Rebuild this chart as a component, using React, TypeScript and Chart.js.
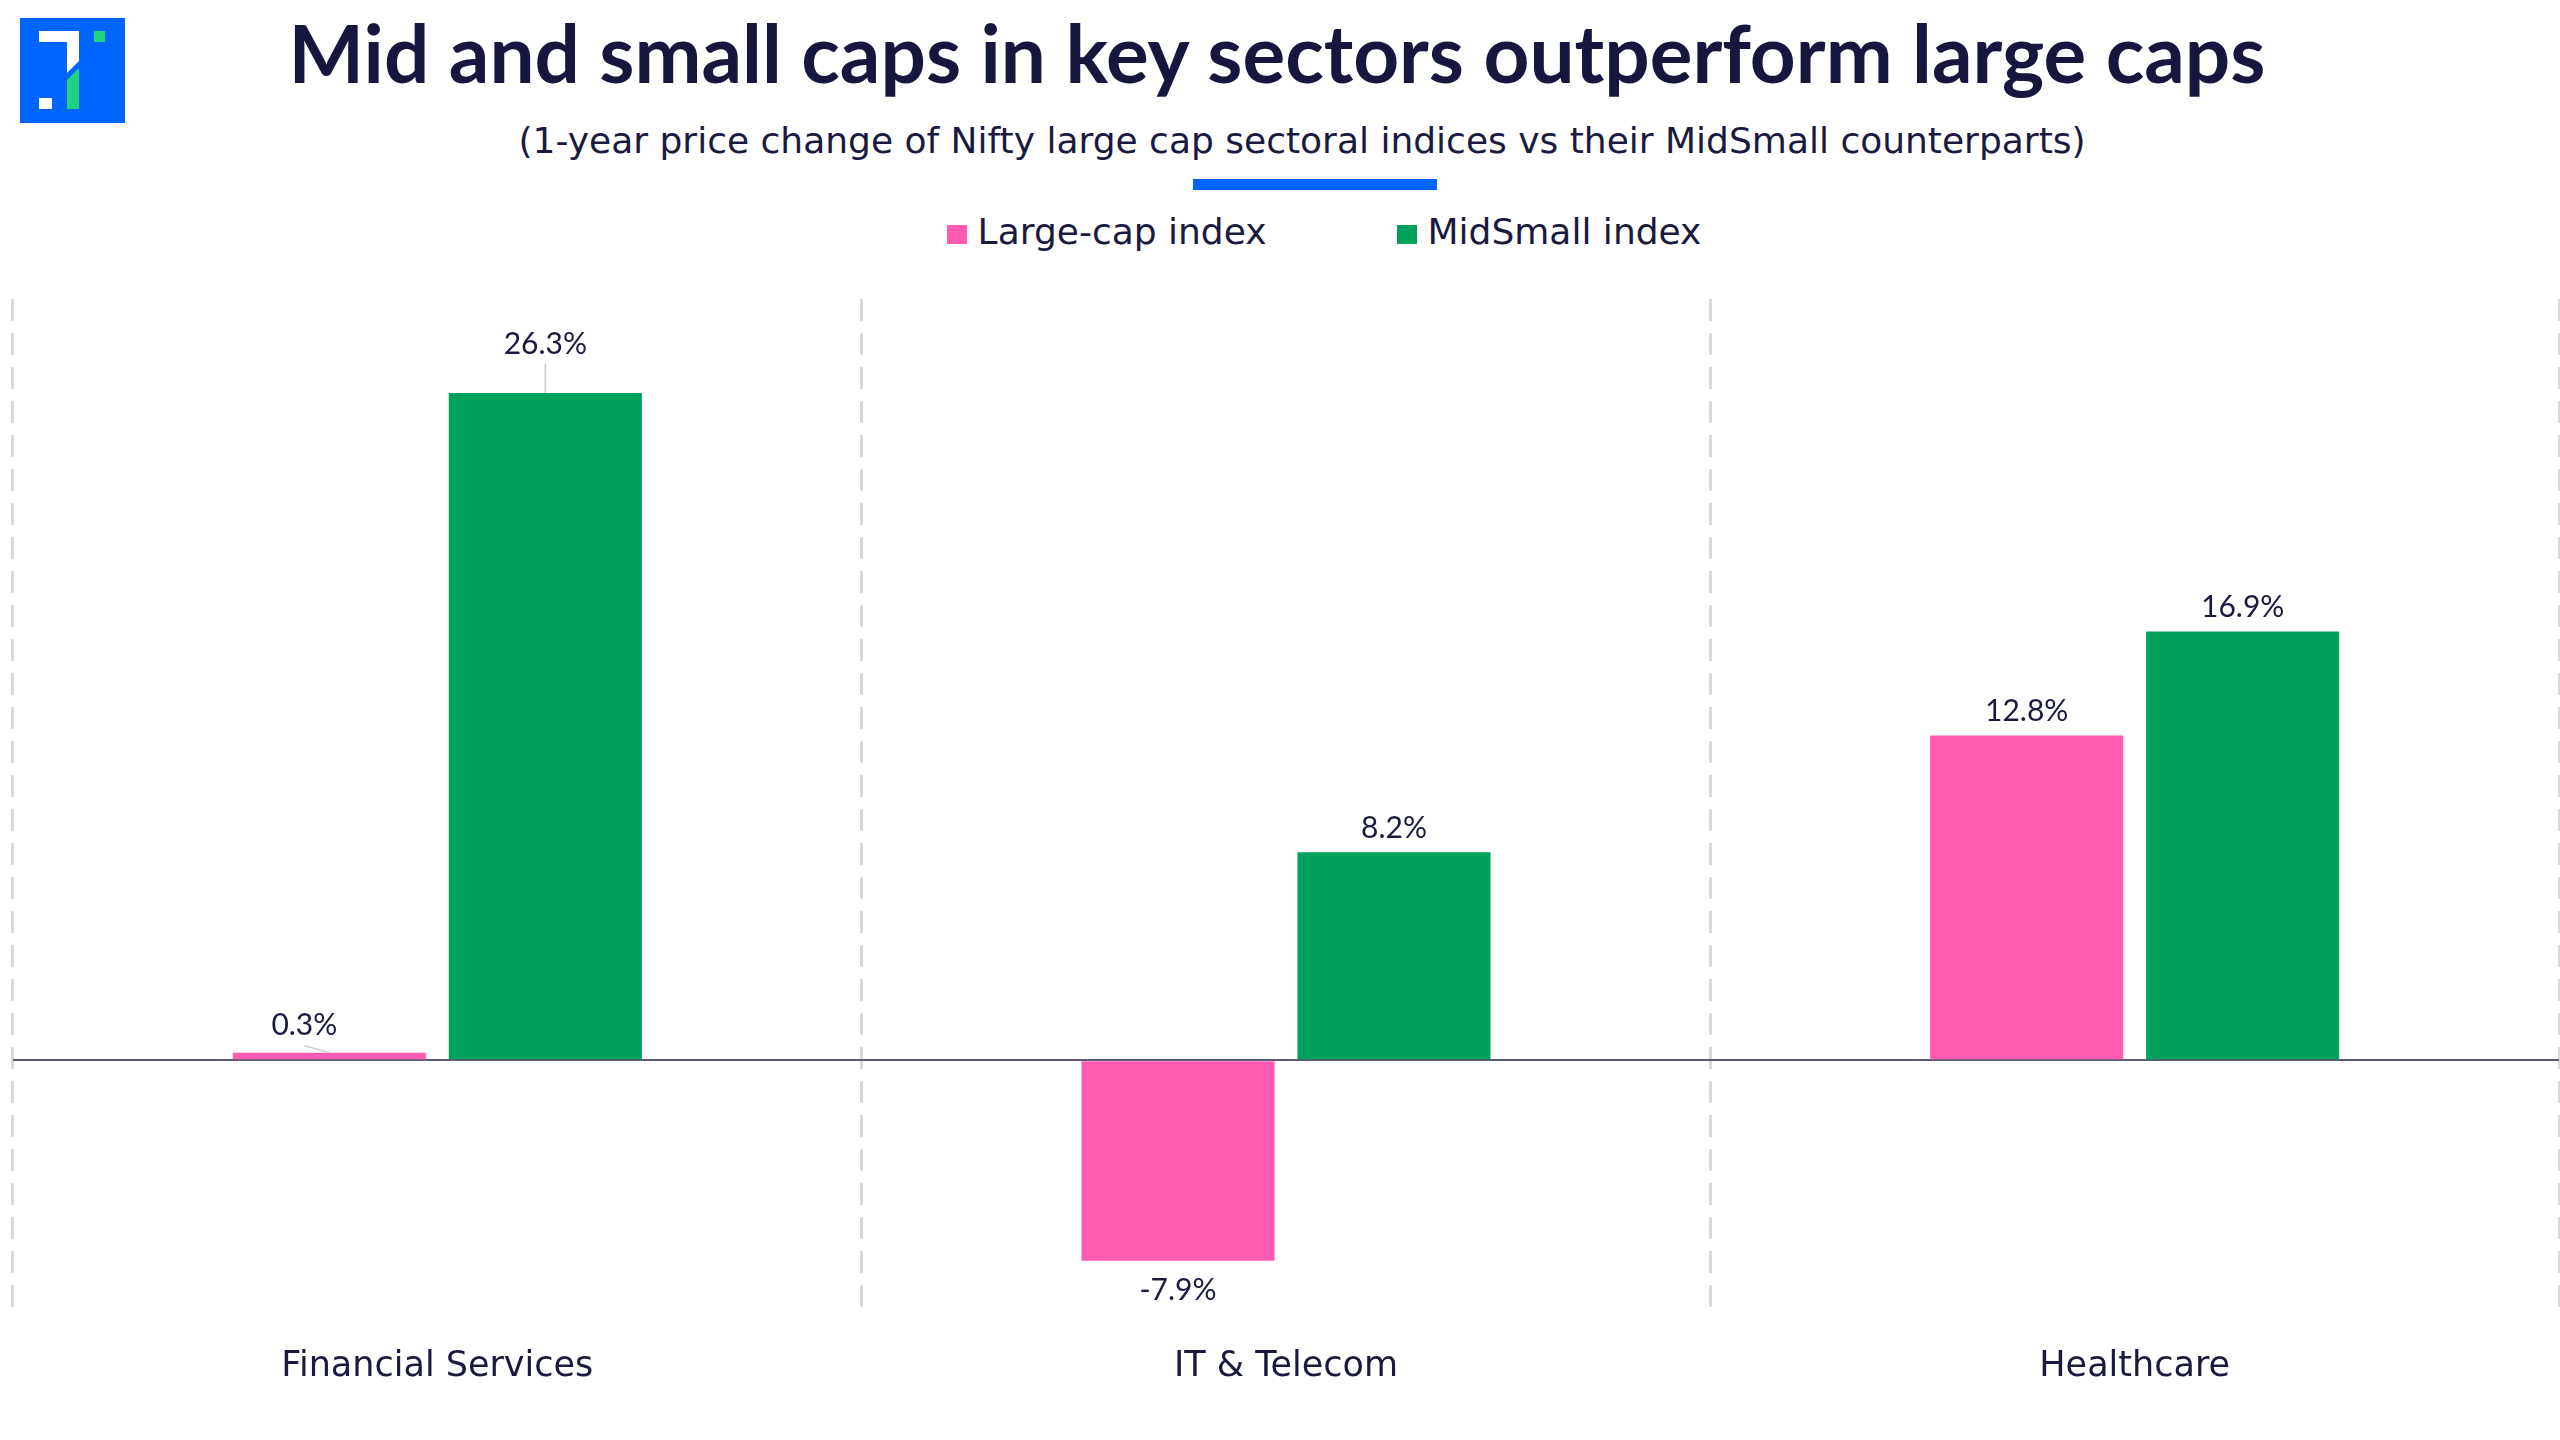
import React, { useEffect, useRef } from "react";
import { Chart, registerables } from "chart.js";

Chart.register(...registerables);

// ---- data ----
const categories = ["Financial Services", "IT & Telecom", "Healthcare"];
const seriesNames = ["Large-cap index", "MidSmall index"];
const largeCapValues = [0.3, -7.9, 12.8];
const midSmallValues = [26.3, 8.2, 16.9];
const seriesColors = ["#FF5CB1", "#00A15B"];
const yMin = -10;
const yMax = 30;

const titleText = "Mid and small caps in key sectors outperform large caps";
const subtitleText =
  "(1-year price change of Nifty large cap sectoral indices vs their MidSmall counterparts)";

const TEXT = "#1A1A40";
const FONT = "Lato, 'Noto Sans', sans-serif";
const BODY_FONT = "'DejaVu Sans', 'Noto Sans', sans-serif";

const valueLabelPlugin = {
  id: "valueLabels",
  afterDatasetsDraw(chart: any, _args: any, opts: any) {
    const { ctx } = chart;
    ctx.save();
    ctx.font = `${opts.size}px ${FONT}`;
    ctx.textAlign = "center";
    ctx.textBaseline = "middle";
    chart.data.datasets.forEach((ds: any, di: number) => {
      const meta = chart.getDatasetMeta(di);
      meta.data.forEach((bar: any, i: number) => {
        const v = ds.data[i] as number;
        const callout = (opts.callouts || []).find(
          (c: any) => c.dataset === di && c.index === i
        );
        const { x, y } = bar.getProps(["x", "y"], true);
        const dx = callout ? callout.dx : 0;
        const lift = callout ? callout.lift : opts.gapAbove;
        const tx = x + dx;
        const ty = v >= 0 ? y - lift : y + opts.gapBelow;
        if (callout) {
          ctx.strokeStyle = "#C9C9CF";
          ctx.lineWidth = 1.5;
          ctx.beginPath();
          ctx.moveTo(tx, ty + 20);
          ctx.lineTo(x, y);
          ctx.stroke();
        }
        ctx.fillStyle = TEXT;
        ctx.fillText(`${v.toFixed(1)}%`, tx, ty);
      });
    });
    ctx.restore();
  },
};

function Logo() {
  return (
    <svg
      width={105}
      height={105}
      viewBox="0 0 105 105"
      style={{ position: "absolute", left: 20, top: 18 }}
    >
      <rect x={0} y={0} width={105} height={105} fill="#0066FF" />
      <rect x={19} y={13} width={40} height={11} fill="#FFFFFF" />
      <polygon points="47,24 59,24 59,43 47,55" fill="#FFFFFF" />
      <polygon points="47,62 59,50 59,91 47,91" fill="#1ED47C" />
      <rect x={19} y={80} width={13} height={11} fill="#FFFFFF" />
      <rect x={74} y={13} width={11} height={11} fill="#1ED47C" />
    </svg>
  );
}

export default function App() {
  const canvasRef = useRef<HTMLCanvasElement | null>(null);

  useEffect(() => {
    document.body.style.margin = "0";
    const canvas = canvasRef.current;
    if (!canvas) return;
    const chart = new Chart(canvas, {
      type: "bar",
      data: {
        labels: categories,
        datasets: [
          {
            label: seriesNames[0],
            data: largeCapValues,
            backgroundColor: seriesColors[0],
            categoryPercentage: 0.509,
            barPercentage: 0.894,
          },
          {
            label: seriesNames[1],
            data: midSmallValues,
            backgroundColor: seriesColors[1],
            categoryPercentage: 0.509,
            barPercentage: 0.894,
          },
        ],
      },
      options: {
        animation: false,
        responsive: false,
        devicePixelRatio: 1,
        layout: { padding: { top: 39, left: 13, right: 1, bottom: 20 } },
        plugins: {
          legend: { display: false },
          title: { display: false },
          tooltip: { enabled: false },
          valueLabels: {
            size: 30,
            gapAbove: 24,
            gapBelow: 30,
            callouts: [
              { dataset: 0, index: 0, dx: -25, lift: 27 },
              { dataset: 1, index: 0, dx: 0, lift: 49 },
            ],
          },
        } as any,
        scales: {
          x: {
            grid: {
              display: true,
              offset: true,
              color: "#D9D9D9",
              lineWidth: 3,
              drawTicks: false,
            },
            border: { display: false, dash: [22, 12] },
            ticks: {
              color: TEXT,
              padding: 32,
              font: { family: BODY_FONT, size: 35 },
            },
          },
          y: {
            min: yMin,
            max: yMax,
            grid: {
              drawTicks: false,
              lineWidth: 2,
              color: (c: any) =>
                c.tick && c.tick.value === 0 ? "#5A5A70" : "rgba(0,0,0,0)",
            },
            border: { display: false },
            ticks: { display: false, stepSize: 10 },
          },
        },
      },
      plugins: [valueLabelPlugin],
    });
    return () => chart.destroy();
  }, []);

  return (
    <div
      style={{
        position: "absolute",
        left: 0,
        top: 0,
        width: 2560,
        height: 1440,
        background: "#FFFFFF",
        overflow: "hidden",
        fontFamily: BODY_FONT,
        color: TEXT,
      }}
    >
      <Logo />
      <div
        style={{
          position: "absolute",
          left: 0,
          top: 12,
          width: 2554,
          textAlign: "center",
          fontFamily: FONT,
          fontSize: 80,
          lineHeight: "80px",
          fontWeight: 700,
          color: "#16163F",
          whiteSpace: "nowrap",
        }}
      >
        {titleText}
      </div>
      <div
        style={{
          position: "absolute",
          left: 0,
          top: 123,
          width: 2604,
          textAlign: "center",
          fontSize: 36,
          lineHeight: "36px",
          whiteSpace: "nowrap",
        }}
      >
        {subtitleText}
      </div>
      <div
        style={{
          position: "absolute",
          left: 1193,
          top: 179,
          width: 244,
          height: 11,
          background: "#0066FF",
        }}
      />
      <div
        style={{
          position: "absolute",
          left: 0,
          top: 214,
          width: 2648,
          display: "flex",
          justifyContent: "center",
          gap: 130,
          fontSize: 36,
          lineHeight: "36px",
          whiteSpace: "nowrap",
        }}
      >
        {seriesNames.map((name, i) => (
          <div key={name} style={{ display: "flex", alignItems: "flex-end" }}>
            <div
              style={{
                width: 20,
                height: 19,
                background: seriesColors[i],
                marginRight: 11,
                marginBottom: 6,
              }}
            />
            <span>{name}</span>
          </div>
        ))}
      </div>
      <canvas
        ref={canvasRef}
        width={2560}
        height={1180}
        style={{ position: "absolute", left: 0, top: 260, width: 2560, height: 1180 }}
      />
    </div>
  );
}
